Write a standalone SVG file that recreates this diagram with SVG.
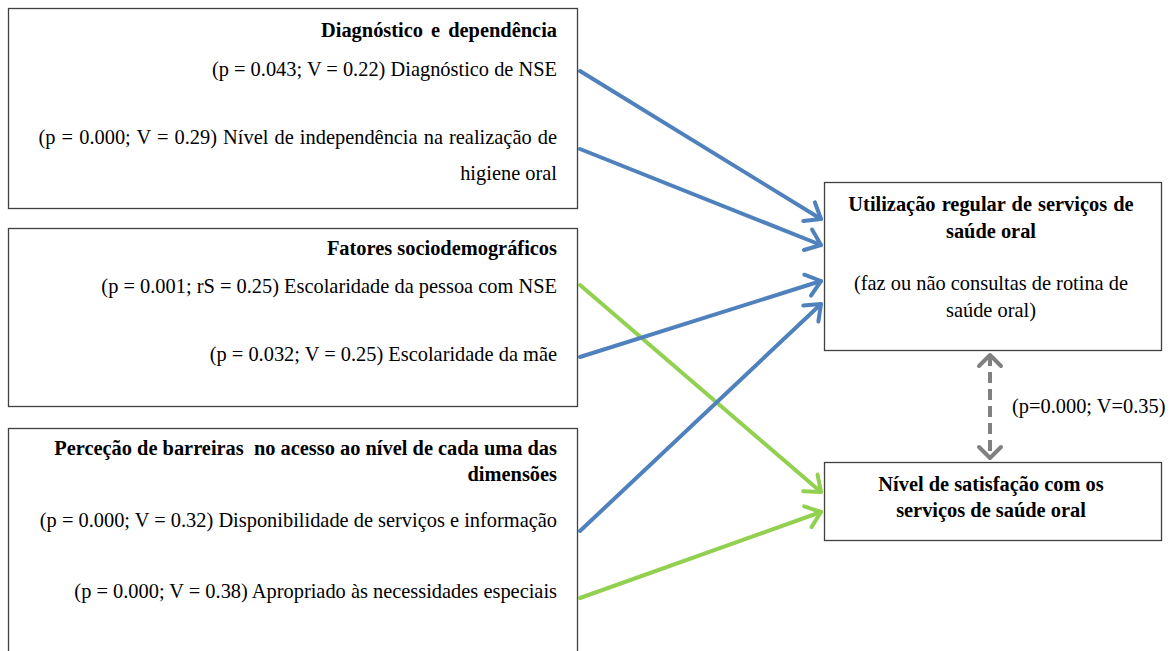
<svg xmlns="http://www.w3.org/2000/svg" width="1174" height="651" viewBox="0 0 1174 651">
<style>
.box{fill:#fff;stroke:#404040;stroke-width:1.3}
.t{font-family:"Liberation Serif","Times New Roman",serif;font-size:20.4px;fill:#000}
.b{font-weight:bold}
.r{text-anchor:end}
.c{text-anchor:middle}
.blue{stroke:#4F81BD;stroke-width:4;fill:none;stroke-linecap:round}
.green{stroke:#92D050;stroke-width:4;fill:none;stroke-linecap:round}
.gray{stroke:#808080;stroke-width:4;fill:none;stroke-dasharray:11,6}
</style>
<defs>
<marker id="ab" markerUnits="userSpaceOnUse" markerWidth="30" markerHeight="30" refX="17" refY="15" orient="auto" viewBox="0 0 30 30" overflow="visible">
<path d="M3,4 L17,15 L3,26" fill="none" stroke="#4F81BD" stroke-width="4" stroke-linecap="round" stroke-linejoin="round"/>
</marker>
<marker id="ag" markerUnits="userSpaceOnUse" markerWidth="30" markerHeight="30" refX="17" refY="15" orient="auto" viewBox="0 0 30 30" overflow="visible">
<path d="M3,4 L17,15 L3,26" fill="none" stroke="#92D050" stroke-width="4" stroke-linecap="round" stroke-linejoin="round"/>
</marker>
<marker id="ay" markerUnits="userSpaceOnUse" markerWidth="30" markerHeight="30" refX="17" refY="15" orient="auto-start-reverse" viewBox="0 0 30 30" overflow="visible">
<path d="M6,4 L17,15 L6,26" fill="none" stroke="#808080" stroke-width="4" stroke-linecap="round" stroke-linejoin="round"/>
</marker>
</defs>

<g id="diagnostico">
<rect class="box" x="8.5" y="8.5" width="569" height="200"/>
<text class="t b r" x="557" y="37" word-spacing="3">Diagnóstico e dependência</text>
<text class="t r" x="557" y="76">(p = 0.043; V = 0.22) Diagnóstico de NSE</text>
<text class="t r" x="557" y="144" word-spacing="1">(p = 0.000; V = 0.29) Nível de independência na realização de</text>
<text class="t r" x="557" y="180">higiene oral</text>
</g>

<g id="sociodemograficos">
<rect class="box" x="8.5" y="228.5" width="569" height="178"/>
<text class="t b r" x="557" y="255">Fatores sociodemográficos</text>
<text class="t r" x="557" y="293">(p = 0.001; rS = 0.25) Escolaridade da pessoa com NSE</text>
<text class="t r" x="557" y="361">(p = 0.032; V = 0.25) Escolaridade da mãe</text>
</g>

<g id="barreiras">
<rect class="box" x="8.5" y="428.5" width="569" height="240"/>
<text class="t b r" x="557" y="455">Perceção de barreiras&#160; no acesso ao nível de cada uma das</text>
<text class="t b r" x="557" y="481">dimensões</text>
<text class="t r" x="557" y="527">(p = 0.000; V = 0.32) Disponibilidade de serviços e informação</text>
<text class="t r" x="557" y="598">(p = 0.000; V = 0.38) Apropriado às necessidades especiais</text>
</g>

<g id="utilizacao">
<rect class="box" x="824.5" y="182.5" width="337" height="168"/>
<text class="t b c" x="991" y="211" word-spacing="1">Utilização regular de serviços de</text>
<text class="t b c" x="991" y="238">saúde oral</text>
<text class="t c" x="991" y="290">(faz ou não consultas de rotina de</text>
<text class="t c" x="991" y="317">saúde oral)</text>
</g>

<g id="satisfacao">
<rect class="box" x="824.5" y="462.5" width="337" height="78"/>
<text class="t b c" x="991" y="491">Nível de satisfação com os</text>
<text class="t b c" x="991" y="517">serviços de saúde oral</text>
</g>

<g id="connectors">
<line class="blue" x1="580" y1="71" x2="821" y2="219" marker-end="url(#ab)"/>
<line class="blue" x1="580" y1="149" x2="821" y2="245" marker-end="url(#ab)"/>
<line class="green" x1="580" y1="285" x2="821" y2="492" marker-end="url(#ag)"/>
<line class="blue" x1="580" y1="357" x2="821" y2="281" marker-end="url(#ab)"/>
<line class="blue" x1="580" y1="531" x2="821" y2="304" marker-end="url(#ab)"/>
<line class="green" x1="580" y1="598" x2="821" y2="512" marker-end="url(#ag)"/>
<line class="gray" x1="990" y1="355" x2="990" y2="458" marker-start="url(#ay)" marker-end="url(#ay)"/>
<text class="t" x="1012" y="413">(p=0.000; V=0.35)</text>
</g>
</svg>
